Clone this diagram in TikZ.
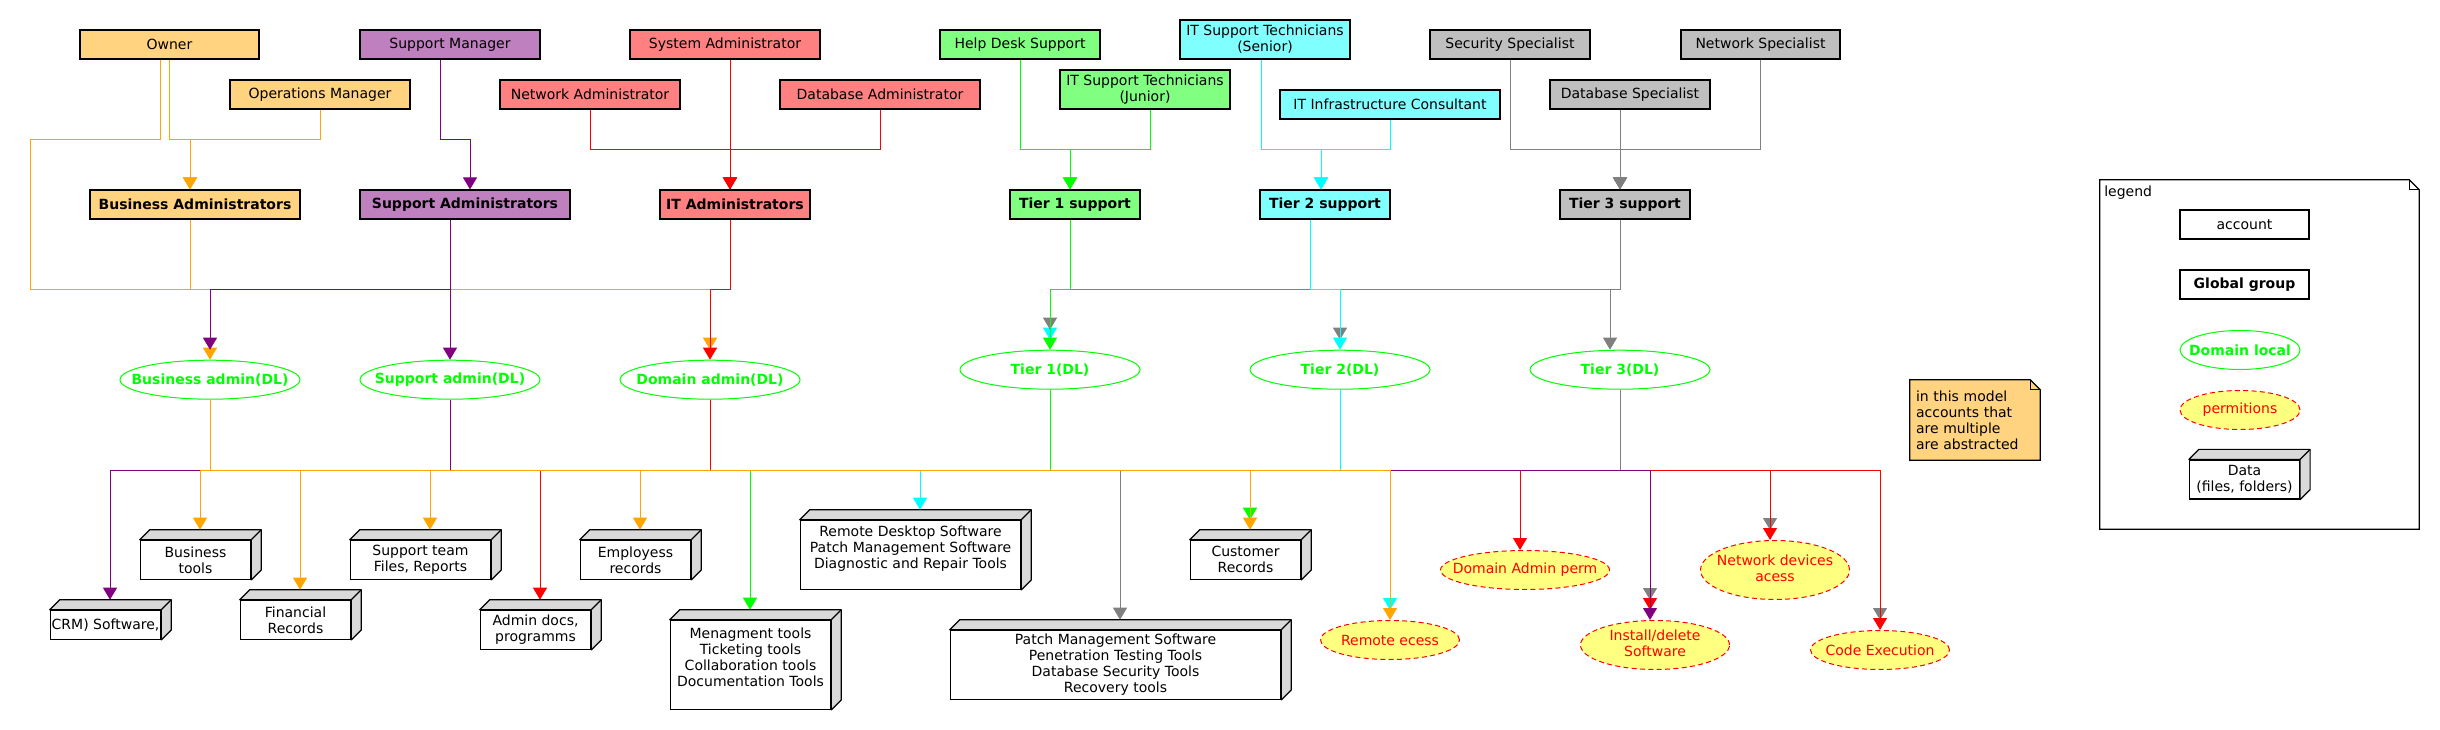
\documentclass[tikz,border=0pt]{standalone}
\usepackage{fontspec}
\setmainfont{DejaVu Sans}
\usetikzlibrary{arrows.meta,shapes.geometric,calc}

\definecolor{corgf}{RGB}{255,211,128}
\definecolor{cpurf}{RGB}{191,128,191}
\definecolor{credf}{RGB}{255,128,128}
\definecolor{cgrnf}{RGB}{128,255,128}
\definecolor{ccynf}{RGB}{128,255,255}
\definecolor{cgryf}{RGB}{191,191,191}
\definecolor{corg}{RGB}{255,165,0}
\definecolor{cpur}{RGB}{128,0,128}
\definecolor{cred}{RGB}{255,0,0}
\definecolor{cgrn}{RGB}{0,255,0}
\definecolor{ccyn}{RGB}{0,255,255}
\definecolor{cgry}{RGB}{128,128,128}
\definecolor{cyel}{RGB}{255,255,128}
\definecolor{cface}{RGB}{217,217,217}

\newcommand{\zbox}[1]{\makebox[0pt]{#1}}

\tikzset{
	every node/.style={font=\fontsize{10.5pt}{12pt}\selectfont},
	acc/.style={draw, line width=0.9pt, minimum height=21.75pt, inner sep=1pt, align=center},
	grp/.style={acc, font=\fontsize{10.5pt}{12pt}\selectfont\bfseries},
	dl/.style={ellipse, draw=cgrn, line width=0.75pt, minimum width=135pt, minimum height=29.25pt, inner sep=0pt, text=cgrn, font=\fontsize{10.5pt}{12pt}\selectfont\bfseries},
	perm/.style={ellipse, draw=cred, dash pattern=on 3.75pt off 2.5pt, fill=cyel, text=cred, line width=0.75pt, inner sep=0pt},
	datab/.style={draw, fill=white, line width=0.9pt, inner sep=1pt, align=center},
	face/.style={draw, fill=cface, line width=0.9pt, line join=round},
	conn/.style={line width=0.75pt, -{Triangle[length=9pt,width=10.5pt]}},
	lorg/.style={conn, draw=corg},
	lpur/.style={conn, draw=cpur},
	lred/.style={conn, draw=cred},
	lgrn/.style={conn, draw=cgrn},
	lcyn/.style={conn, draw=ccyn},
	lgry/.style={conn, draw=cgry},
	sh1/.style={shorten >=7.5pt},
	sh2/.style={shorten >=15pt}
}

\begin{document}
\begin{tikzpicture}[x=0.75pt,y=0.75pt,yscale=-1,xscale=1]
	\useasboundingbox (0,0) rectangle (2440,730);
	
	% accounts
	\node[acc,fill=corgf,minimum width=134.25pt] (owner) at (169.5,44.5) {Owner};
	\node[acc,fill=cpurf,minimum width=135pt] (supmgr) at (450,44.5) {Support Manager};
	\node[acc,fill=credf,minimum width=142.5pt] (sysadm) at (725,44.5) {System Administrator};
	\node[acc,fill=cgrnf,minimum width=120pt] (helpdesk) at (1020,44.5) {Help Desk Support};
	\node[acc,fill=ccynf,minimum width=127.5pt,minimum height=29.25pt] (senior) at (1265,39.5) {IT Support Technicians\\(Senior)};
	\node[acc,fill=cgryf,minimum width=120pt] (secspec) at (1510,44.5) {Security Specialist};
	\node[acc,fill=cgryf,minimum width=119.25pt] (netspec) at (1760.5,44.5) {Network Specialist};
	\node[acc,fill=corgf,minimum width=135pt] (opsmgr) at (320,94.5) {Operations Manager};
	\node[acc,fill=credf,minimum width=135pt] (netadm) at (590,94.5) {Network Administrator};
	\node[acc,fill=credf,minimum width=150pt] (dbadm) at (880,94.5) {Database Administrator};
	\node[acc,fill=cgrnf,minimum width=127.5pt,minimum height=29.25pt] (junior) at (1145,89.5) {IT Support Technicians\\(Junior)};
	\node[acc,fill=ccynf,minimum width=165pt] (infra) at (1390,104.5) {IT Infrastructure Consultant};
	\node[acc,fill=cgryf,minimum width=120pt] (dbspec) at (1630,94.5) {Database Specialist};
	
	% global groups
	\node[grp,fill=corgf,minimum width=157.5pt] (bizadm) at (195,204.5) {Business Administrators};
	\node[grp,fill=cpurf,minimum width=157.5pt] (supadm) at (465,204.5) {Support Administrators};
	\node[grp,fill=credf,minimum width=112.5pt] (itadm) at (735,204.5) {IT Administrators};
	\node[grp,fill=cgrnf,minimum width=97.5pt] (tier1) at (1075,204.5) {Tier 1 support};
	\node[grp,fill=ccynf,minimum width=97.5pt] (tier2) at (1325,204.5) {Tier 2 support};
	\node[grp,fill=cgryf,minimum width=97.5pt] (tier3) at (1625,204.5) {Tier 3 support};
	
	% domain local groups
	\node[dl] (bizdl) at (210,379.7) {\zbox{Business admin(DL)}};
	\node[dl] (supdl) at (450,379.7) {\zbox{Support admin(DL)}};
	\node[dl] (domdl) at (710,379.7) {\zbox{Domain admin(DL)}};
	\node[dl] (t1dl) at (1050,369.7) {\zbox{Tier 1(DL)}};
	\node[dl] (t2dl) at (1340,369.7) {\zbox{Tier 2(DL)}};
	\node[dl] (t3dl) at (1620,369.7) {\zbox{Tier 3(DL)}};
	
	% data
	\node[datab,minimum width=82.8pt,minimum height=21.75pt] (crm) at (105.5,624.8) {CRM) Software,};
	\node[datab,minimum width=82.8pt,minimum height=29.25pt] (bustools) at (195.5,559.8) {Business\\tools};
	\node[datab,minimum width=82.8pt,minimum height=29.25pt] (finrec) at (295.5,619.8) {Financial\\Records};
	\node[datab,minimum width=105.3pt,minimum height=29.25pt] (supfiles) at (420.5,559.8) {Support team\\Files, Reports};
	\node[datab,minimum width=82.8pt,minimum height=29.25pt] (admdocs) at (535.5,629.8) {Admin docs,\\programms};
	\node[datab,minimum width=82.8pt,minimum height=29.25pt] (emprec) at (635.5,559.8) {Employess\\records};
	\node[datab,minimum width=120.3pt,minimum height=66.75pt] (mgmt) at (750.5,664.8) {Menagment tools\\Ticketing tools\\Collaboration tools\\Documentation Tools\\ \mbox{}};
	\node[datab,minimum width=165.3pt,minimum height=51.75pt] (remdesk) at (910.5,554.8) {Remote Desktop Software\\Patch Management Software\\Diagnostic and Repair Tools\\[-0.5pt]\mbox{}};
	\node[datab,minimum width=247.8pt,minimum height=51.75pt] (patch) at (1115.5,664.8) {Patch Management Software\\Penetration Testing Tools\\Database Security Tools\\Recovery tools};
	\node[datab,minimum width=82.8pt,minimum height=29.25pt] (custrec) at (1245.5,559.8) {Customer\\Records};
	
	% permissions
	\node[perm,minimum width=104.25pt,minimum height=29.25pt] (remacc) at (1390,640) {\zbox{Remote ecess}};
	\node[perm,minimum width=126.75pt,minimum height=29.25pt] (dadmperm) at (1525,570) {\zbox{Domain Admin perm}};
	\node[perm,minimum width=111.75pt,minimum height=36.75pt] (install) at (1655,645) {\zbox{\begin{tabular}{@{}c@{}}Install/delete\\Software\end{tabular}}};
	\node[perm,minimum width=111.75pt,minimum height=44.25pt] (netdev) at (1775,570) {\zbox{\begin{tabular}{@{}c@{}}Network devices\\acess\end{tabular}}};
	\node[perm,minimum width=104.25pt,minimum height=29.25pt] (codeexec) at (1880,650) {\zbox{Code Execution}};
	
	% note
	\node[fill=corgf,minimum width=97.5pt,minimum height=60pt,text width=88.5pt,align=left,inner sep=0pt] (note) at (1975,420) {in this model\\accounts that\\are multiple\\are abstracted};
	\fill[white] ($(note.north east)+(-10,0)$) -- (note.north east) -- ($(note.north east)+(0,10)$) -- cycle;
	\draw[line width=0.9pt] (note.north west) -- ($(note.north east)+(-10,0)$) -- ($(note.north east)+(0,10)$) -- (note.south east) -- (note.south west) -- cycle;
	\draw[line width=0.75pt] ($(note.north east)+(-10,0)$) |- ($(note.north east)+(0,10)$);
	
	% legend
	\node[minimum width=239.25pt,minimum height=261.75pt,inner sep=0pt] (legend) at (2259.5,354.5) {};
	\draw[line width=0.9pt] (legend.north west) -- ($(legend.north east)+(-10,0)$) -- ($(legend.north east)+(0,10)$) -- (legend.south east) -- (legend.south west) -- cycle;
	\draw[line width=0.75pt] ($(legend.north east)+(-10,0)$) |- ($(legend.north east)+(0,10)$);
	\node[anchor=west,inner sep=0pt] (leglbl) at (2104,193) {legend};
	\node[acc,fill=white,minimum width=96.75pt] (legacc) at (2244.5,224.5) {account};
	\node[grp,fill=white,minimum width=96.75pt] (leggrp) at (2244.5,284.5) {Global group};
	\node[dl,minimum width=90pt] (legdl) at (2240,350) {\zbox{Domain local}};
	\node[perm,minimum width=90pt,minimum height=29.25pt] (legperm) at (2240,410) {\zbox{permitions}};
	\node[datab,minimum width=82.5pt,minimum height=29.25pt] (legdata) at (2244.5,479.5) {Data\\(files, folders)};
	
	% 3d faces of data boxes
	\foreach \n in {crm,bustools,finrec,supfiles,admdocs,emprec,mgmt,remdesk,patch,custrec,legdata}{
		\draw[face] (\n.north west) -- ($(\n.north west)+(10,-10)$) -- ($(\n.north east)+(10,-10)$) -- ($(\n.south east)+(10,-10)$) -- (\n.south east) -- (\n.north east) -- cycle;
		\draw[line width=0.9pt] (\n.north east) -- ($(\n.north east)+(10,-10)$);
	}
	
	% accounts -> global groups
	\draw[lorg] (owner.south) |- (190,140) -- (bizadm.north -| 190,0);
	\draw[lorg] (opsmgr.south) |- (190,140) -- (bizadm.north -| 190,0);
	\draw[lpur] (supmgr.south -| 440,0) |- (470,140) -- (supadm.north -| 470,0);
	\draw[lred] (sysadm.south -| 730,0) -- (itadm.north -| 730,0);
	\draw[lred] (netadm.south) |- (730,150) -- (itadm.north -| 730,0);
	\draw[lred] (dbadm.south) |- (730,150) -- (itadm.north -| 730,0);
	\draw[lgrn] (helpdesk.south) |- (1070,150) -- (tier1.north -| 1070,0);
	\draw[lgrn] (junior.south -| 1150,0) |- (1070,150) -- (tier1.north -| 1070,0);
	\draw[lcyn] (senior.south -| 1261,0) |- (1321,150) -- (tier2.north -| 1321,0);
	\draw[lcyn] (infra.south) |- (1321,150) -- (tier2.north -| 1321,0);
	\draw[lgry] (secspec.south) |- (1620,150) -- (tier3.north -| 1620,0);
	\draw[lgry] (netspec.south) |- (1620,150) -- (tier3.north -| 1620,0);
	\draw[lgry] (dbspec.south -| 1620,0) -- (tier3.north -| 1620,0);
	
	% global groups -> domain local
	\draw[lorg,sh1] (owner.south -| 160,0) -- (160,140) -| (30,290) -| (domdl.north);
	\draw[lorg] (bizadm.south -| 190,0) |- (210,290) -- (bizdl.north);
	\draw[lpur,sh1] (supadm.south -| 450,0) -- (450,290) -| (bizdl.north);
	\draw[lpur] (supadm.south -| 450,0) -- (supdl.north);
	\draw[lred] (itadm.south -| 730,0) |- (710,290) -- (domdl.north);
	\draw[lcyn,sh1] (tier2.south -| 1310,0) -- (1310,290) -| (t1dl.north);
	\draw[lgry,sh2] (tier3.south -| 1620,0) -- (1620,290) -| (t1dl.north);
	\draw[lgry,sh1] (tier3.south -| 1620,0) -- (1620,290) -| (t2dl.north);
	\draw[lgry] (tier3.south -| 1620,0) |- (1610,290) -- (t3dl.north -| 1610,0);
	\draw[lgrn] (tier1.south -| 1070,0) |- (1050,290) -- (t1dl.north);
	\draw[lcyn] (tier2.south -| 1310,0) |- (1340,290) -- (t2dl.north);
	
	% domain local -> data and permissions
	\draw[lgry,sh1] (t3dl.south) |- (1120,470) -- (patch.north -| 1120,0);
	\draw[lgry,sh2] (t3dl.south) |- (1650,470) -- (install.north -| 1650,0);
	\draw[lgry,sh1] (t3dl.south) |- (1770,470) -- (netdev.north -| 1770,0);
	\draw[lgry,sh1] (t3dl.south) |- (1880,470) -- (codeexec.north);
	\draw[lcyn,sh1] (t2dl.south) |- (920,470) -- (remdesk.north -| 920,0);
	\draw[lcyn,sh1] (t2dl.south) |- (1390,470) -- (remacc.north);
	\draw[lgrn,sh1] (t1dl.south) |- (750,470) -- (mgmt.north -| 750,0);
	\draw[lgrn,sh2] (t1dl.south) |- (1250,470) -- (custrec.north -| 1250,0);
	\draw[lred,sh1] (domdl.south) |- (540,470) -- (admdocs.north -| 540,0);
	\draw[lred] (domdl.south) |- (1520,470) -- (dadmperm.north -| 1520,0);
	\draw[lred,sh1] (domdl.south) |- (1650,470) -- (install.north -| 1650,0);
	\draw[lred] (domdl.south) |- (1770,470) -- (netdev.north -| 1770,0);
	\draw[lred] (domdl.south) |- (1880,470) -- (codeexec.north);
	\draw[lpur,sh1] (supdl.south) |- (110,470) -- (crm.north -| 110,0);
	\draw[lpur] (supdl.south) |- (1650,470) -- (install.north -| 1650,0);
	\draw[lorg,sh1] (bizdl.south) |- (200,470) -- (bustools.north -| 200,0);
	\draw[lorg,sh1] (bizdl.south) |- (300,470) -- (finrec.north -| 300,0);
	\draw[lorg,sh1] (bizdl.south) |- (430,470) -- (supfiles.north -| 430,0);
	\draw[lorg,sh1] (bizdl.south) |- (640,470) -- (emprec.north -| 640,0);
	\draw[lorg,sh1] (bizdl.south) |- (1250,470) -- (custrec.north -| 1250,0);
	\draw[lorg] (bizdl.south) |- (1390,470) -- (remacc.north);
	
\end{tikzpicture}
\end{document}
